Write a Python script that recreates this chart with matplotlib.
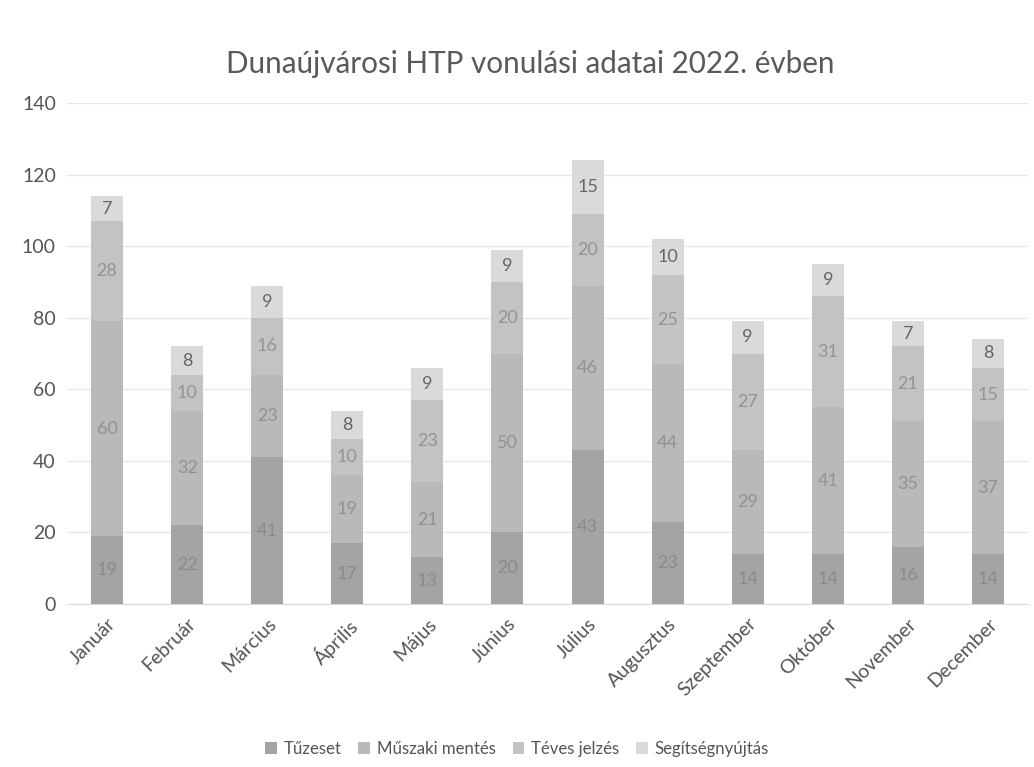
import matplotlib
matplotlib.use("Agg")
import matplotlib.pyplot as plt
import numpy as np

months = ["Január", "Február", "Március", "Április", "Május", "Június",
          "Július", "Augusztus", "Szeptember", "Október", "November", "December"]
series_names = ["Tűzeset", "Műszaki mentés", "Téves jelzés", "Segítségnyújtás"]
tuzeset = [19, 22, 41, 17, 13, 20, 43, 23, 14, 14, 16, 14]
muszaki = [60, 32, 23, 19, 21, 50, 46, 44, 29, 41, 35, 37]
teves = [28, 10, 16, 10, 23, 20, 20, 25, 27, 31, 21, 15]
segitseg = [7, 8, 9, 8, 9, 9, 15, 10, 9, 9, 7, 8]
yticks = [0, 20, 40, 60, 80, 100, 120, 140]

colors = ["#a4a4a4", "#b9b9b9", "#c3c3c3", "#dadada"]
label_colors = ["#8a8a8a", "#929292", "#949494", "#666666"]

plt.rcParams['font.family'] = ['Lato', 'DejaVu Sans']

fig = plt.figure(figsize=(10.34, 7.67), dpi=100)
ax = fig.add_axes([67 / 1034, 1 - 604 / 767, (1028 - 67) / 1034, (604 - 103) / 767])

x = np.arange(len(months))
bottom = np.zeros(len(months))
handles = []
for vals, name, c, lc in zip([tuzeset, muszaki, teves, segitseg], series_names, colors, label_colors):
    vals = np.array(vals, dtype=float)
    b = ax.bar(x, vals, 0.4, bottom=bottom, color=c, label=name, zorder=3)
    handles.append(b)
    for xi, v, bt in zip(x, vals, bottom):
        ax.text(xi, bt + v / 2, f"{int(v)}", ha="center", va="center",
                fontsize=13, color=lc, zorder=4)
    bottom += vals

ax.set_ylim(0, 140)
ax.set_xlim(-0.5, len(months) - 0.5)
ax.set_yticks(yticks)
ax.set_yticklabels([str(t) for t in yticks], fontsize=14, color="#555555")
ax.set_xticks(x)
ax.set_xticklabels(months, rotation=45, ha="right", rotation_mode="anchor",
                   fontsize=14, color="#555555")
ax.tick_params(axis="both", length=0, pad=8)
ax.yaxis.grid(True, color="#e6e6e6", linewidth=1, zorder=0)
for s in ["top", "right", "left"]:
    ax.spines[s].set_visible(False)
ax.spines["bottom"].set_color("#d9d9d9")

fig.text(0.513, 0.916, "Dunaújvárosi HTP vonulási adatai 2022. évben",
         ha="center", va="center", fontsize=21.3, color="#595959")

fig.legend(handles=handles, labels=series_names, loc="center",
           bbox_to_anchor=(0.5, 0.024), ncol=4, frameon=False, fontsize=12.1,
           handlelength=0.7, handleheight=0.7, handletextpad=0.4, columnspacing=1.0,
           labelcolor="#555555")

fig.savefig("out.png", dpi=100, facecolor="white")
